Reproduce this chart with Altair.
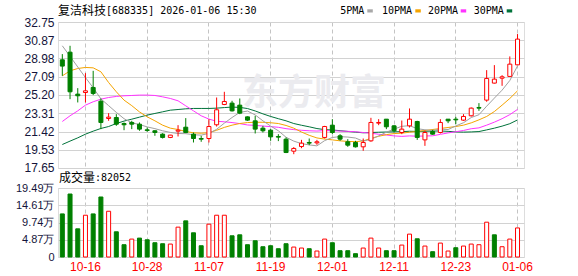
import altair as alt
import pandas as pd

# ---------------- data ----------------
dates = ["10-13", "10-14", "10-15", "10-16", "10-17", "10-20", "10-21", "10-22", "10-23", "10-24",
         "10-27", "10-28", "10-29", "10-30", "10-31", "11-03", "11-04", "11-05", "11-06", "11-07",
         "11-10", "11-11", "11-12", "11-13", "11-14", "11-17", "11-18", "11-19", "11-20", "11-21",
         "11-24", "11-25", "11-26", "11-27", "11-28", "12-01", "12-02", "12-03", "12-04", "12-05",
         "12-08", "12-09", "12-10", "12-11", "12-12", "12-15", "12-16", "12-17", "12-18", "12-19",
         "12-22", "12-23", "12-24", "12-25", "12-26", "12-29", "12-30", "12-31", "01-05", "01-06"]

opens = [28.84, 29.63, 25.29, 25.46, 25.98, 24.56, 22.77, 22.87, 22.25, 22.36,
         22.18, 21.60, 21.50, 21.15, 20.81, 21.46, 21.87, 21.15, 20.70, 20.70,
         22.12, 24.22, 24.36, 24.15, 22.94, 22.53, 21.77, 21.56, 20.91, 20.63,
         19.39, 19.87, 20.29, 20.25, 20.81, 22.08, 20.98, 20.36, 20.29, 19.84,
         20.46, 22.29, 22.70, 22.01, 21.32, 22.01, 22.46, 20.56, 21.43, 21.32,
         22.70, 22.70, 22.60, 23.05, 23.91, 24.67, 26.43, 26.94, 27.12, 28.32]
highs = [29.43, 30.29, 25.91, 27.46, 27.70, 24.84, 23.32, 23.22, 22.36, 22.53,
         22.36, 21.84, 21.56, 21.25, 21.08, 22.08, 22.81, 21.32, 20.98, 22.70,
         24.94, 25.53, 24.60, 24.84, 22.98, 23.05, 22.01, 21.67, 21.15, 20.81,
         19.81, 20.56, 20.70, 20.56, 22.01, 22.70, 21.15, 20.63, 20.46, 20.70,
         22.84, 22.70, 22.70, 22.08, 22.56, 23.81, 22.53, 21.50, 21.60, 22.70,
         22.70, 22.94, 23.22, 23.91, 24.36, 27.77, 28.29, 27.25, 29.19, 31.50]
lows = [27.18, 24.77, 24.43, 24.43, 25.19, 21.67, 22.53, 22.01, 21.56, 21.67,
        21.50, 21.39, 20.98, 20.70, 20.74, 20.91, 21.25, 20.29, 20.36, 20.29,
        21.94, 24.15, 23.49, 23.22, 22.53, 21.22, 21.32, 20.46, 20.43, 19.19,
        19.08, 19.70, 20.01, 20.05, 20.70, 21.15, 20.46, 19.84, 19.77, 19.43,
        20.36, 22.08, 21.67, 21.32, 21.15, 21.84, 20.56, 19.94, 21.08, 21.22,
        22.29, 22.18, 22.53, 22.98, 23.56, 24.50, 26.39, 26.15, 27.12, 28.32]
closes = [28.19, 25.53, 25.12, 25.63, 25.36, 22.36, 22.91, 22.18, 22.12, 22.18,
          21.67, 21.53, 21.32, 20.81, 21.05, 21.56, 21.32, 20.70, 20.63, 21.94,
          23.67, 24.53, 23.56, 23.32, 22.60, 21.67, 21.50, 20.87, 20.84, 19.25,
          19.67, 20.22, 20.22, 20.36, 21.94, 21.32, 20.63, 20.01, 19.84, 20.29,
          22.36, 22.36, 21.91, 21.50, 21.67, 22.70, 20.81, 21.32, 21.15, 22.36,
          22.53, 22.63, 22.98, 23.84, 23.84, 26.91, 26.84, 27.08, 28.39, 30.98]

ma5 = [30.29, 29.20, 28.10, 27.00, 25.95, 24.80, 24.10, 23.40, 22.75, 22.32,
       22.15, 21.90, 21.72, 21.50, 21.33, 21.22, 21.20, 21.09, 21.05, 21.23,
       21.65, 22.29, 22.87, 23.40, 23.54, 23.14, 22.53, 21.99, 21.50, 20.83,
       20.43, 20.17, 20.04, 19.94, 20.48, 20.81, 20.89, 20.85, 20.75, 20.42,
       20.63, 20.97, 21.35, 21.68, 21.96, 22.03, 21.72, 21.60, 21.53, 21.67,
       21.63, 22.00, 22.33, 22.87, 23.16, 24.04, 24.88, 25.70, 26.70, 28.20]
ma10 = [27.18, 27.70, 27.94, 28.05, 28.01, 27.60, 26.49, 25.53, 24.67, 24.10,
        23.45, 22.94, 22.53, 22.08, 21.77, 21.63, 21.43, 21.29, 21.25, 21.30,
        21.55, 21.85, 22.08, 22.25, 22.35, 22.38, 22.38, 22.33, 22.25, 22.05,
        21.77, 21.37, 21.03, 20.76, 20.64, 20.56, 20.46, 20.40, 20.37, 20.45,
        20.72, 20.93, 21.10, 21.21, 21.25, 21.35, 21.43, 21.53, 21.63, 21.74,
        21.84, 21.94, 22.08, 22.32, 22.63, 22.98, 23.49, 24.15, 24.84, 25.63]
ma20 = [22.46, 23.05, 23.56, 24.15, 24.50, 24.77, 24.94, 25.05, 25.12, 25.15,
        25.19, 25.19, 25.15, 25.01, 24.84, 24.60, 24.08, 23.56, 23.05, 22.71,
        22.48, 22.43, 22.35, 22.24, 22.10, 22.06, 21.99, 21.93, 21.86, 21.72,
        21.62, 21.55, 21.50, 21.47, 21.52, 21.51, 21.47, 21.44, 21.40, 21.32,
        21.25, 21.14, 21.06, 20.97, 20.92, 20.97, 20.94, 20.96, 20.98, 21.13,
        21.28, 21.40, 21.53, 21.71, 21.80, 22.08, 22.39, 22.75, 23.17, 23.71]
ma30 = [20.08, 20.43, 20.77, 21.15, 21.46, 21.74, 21.94, 22.25, 22.50, 22.70,
        22.91, 23.12, 23.29, 23.46, 23.63, 23.70, 23.77, 23.81, 23.81, 23.81,
        23.84, 23.90, 23.95, 23.92, 23.80, 23.55, 23.25, 22.98, 22.75, 22.53,
        22.25, 22.07, 21.91, 21.73, 21.62, 21.58, 21.51, 21.43, 21.36, 21.29,
        21.32, 21.35, 21.37, 21.39, 21.41, 21.45, 21.43, 21.45, 21.47, 21.48,
        21.44, 21.38, 21.36, 21.38, 21.42, 21.59, 21.77, 21.98, 22.23, 22.62]

# volume in 万 (10k)
volumes = [12.17, 17.79, 7.96, 11.80, 12.17, 16.95, 12.92, 7.12, 3.47, 5.06,
           5.34, 4.87, 4.03, 3.75, 3.65, 8.43, 10.21, 6.84, 3.18, 9.27,
           11.80, 11.80, 5.99, 6.27, 3.47, 4.59, 2.90, 3.18, 2.34, 3.75,
           2.81, 2.53, 2.34, 1.69, 5.06, 4.03, 1.78, 1.78, 0.94, 2.53,
           5.34, 2.53, 1.78, 1.78, 3.37, 6.46, 5.15, 3.09, 1.50, 3.93,
           1.69, 2.62, 3.09, 3.65, 3.47, 9.83, 6.27, 2.90, 5.06, 8.2052]
vol_up = [0, 0, 0, 1, 0, 0, 1, 0, 0, 1,
          0, 0, 0, 0, 1, 1, 0, 0, 0, 1,
          1, 1, 0, 0, 0, 0, 0, 0, 0, 0,
          1, 1, 0, 1, 1, 0, 0, 0, 0, 1,
          1, 1, 0, 0, 1, 1, 0, 1, 0, 1,
          1, 0, 1, 1, 1, 1, 0, 1, 1, 1]

date_ticks = ["10-16", "10-28", "11-07", "11-19", "12-01", "12-11", "12-23", "01-06"]
price_ticks = [17.65, 19.53, 21.42, 23.31, 25.20, 27.09, 28.98, 30.87, 32.75]
vol_ticks = [0, 4.87, 9.74, 14.61, 19.49]

title_cn = "复洁科技"
title_rest = "[688335] 2026-01-06 15:30"
vol_cn = "成交量"
vol_rest = ":82052"
watermark = "东方财富"
legend_names = ["5PMA", "10PMA", "20PMA", "30PMA"]
legend_colors = ["#a8a8a8", "#f5a400", "#ff33ff", "#00723a"]

df = pd.DataFrame({
    "date": dates, "open": opens, "high": highs, "low": lows, "close": closes,
    "ma5": ma5, "ma10": ma10, "ma20": ma20, "ma30": ma30,
    "vol": volumes, "vup": vol_up,
})

W, H1, H2 = 466, 146, 69
RED, GREEN = "#ff0000", "#008000"
MONO = "DejaVu Sans Mono"
CJK = "Noto Sans CJK SC"

xscale = alt.Scale(paddingInner=0, paddingOuter=0.2, align=0.15)


def x_enc(show_labels):
    if show_labels:
        ax = alt.Axis(values=date_ticks, labelColor=RED, labelFontSize=12, labelAngle=0,
                      labelFont="Liberation Sans", labelPadding=4, ticks=False, domain=False,
                      grid=True, gridDash=[4, 3], gridColor="#c4c4c4", bandPosition=0.5,
                      title=None, labelOverlap=False)
    else:
        ax = alt.Axis(values=date_ticks, labels=False, ticks=False, domain=False,
                      grid=True, gridDash=[4, 3], gridColor="#c4c4c4", bandPosition=0.5,
                      title=None)
    return alt.X("date:O", sort=None, scale=xscale, axis=ax)


# lower bound nudged by a hair so the 17.65 tick is not culled by float rounding
pscale = alt.Scale(domain=[17.6499, 32.75], nice=False, zero=False)
paxis = alt.Axis(values=price_ticks, format=".2f", labelFontSize=12, labelColor="#14143a",
                 labelFont="Liberation Sans", ticks=False, domain=False, labelPadding=4,
                 gridColor="#d2d2d2", title=None, labelOverlap=False, labelFlush=False)


def py(field):
    return alt.Y(f"{field}:Q", scale=pscale, axis=paxis)


base = alt.Chart(df)
up_cond = "datum.close >= datum.open"

wicks = base.mark_rule(strokeWidth=1).encode(
    x=x_enc(False), y=py("low"), y2="high:Q",
    color=alt.condition(up_cond, alt.value(RED), alt.value(GREEN)),
)
bodies = base.mark_bar(size=4, strokeWidth=1).encode(
    x=x_enc(False), y=py("open"), y2="close:Q",
    fill=alt.condition(up_cond, alt.value("white"), alt.value(GREEN)),
    stroke=alt.condition(up_cond, alt.value(RED), alt.value(GREEN)),
)
ma_layers = [
    base.mark_line(strokeWidth=1, color=c).encode(x=x_enc(False), y=py(f))
    for f, c in zip(["ma30", "ma20", "ma10", "ma5"],
                    ["#00723a", "#ff33ff", "#f5a400", "#a0a0a0"])
]

one = pd.DataFrame({"k": [0]})
wm = alt.Chart(one).mark_text(text=watermark, font=CJK, fontSize=36, fontWeight="bold",
                              color="#ebebef", align="center", baseline="middle").encode(
    x=alt.value(256), y=alt.value(72))
t1 = alt.Chart(one).mark_text(text=title_cn, font=CJK, fontSize=12, color="#000",
                              align="left", baseline="middle").encode(
    x=alt.value(0), y=alt.value(-11))
t2 = alt.Chart(one).mark_text(text=title_rest, font=MONO, fontSize=10, color="#000",
                              align="left", baseline="middle").encode(
    x=alt.value(48), y=alt.value(-11))

leg_text_x = [282.3, 324.0, 370.0, 415.7]
leg_sq_x = [309.3, 357.3, 402.7, 448.7]
leg_layers = []
for name, col, tx, sx in zip(legend_names, legend_colors, leg_text_x, leg_sq_x):
    leg_layers.append(alt.Chart(one).mark_text(text=name, font=MONO, fontSize=10, color="#000",
                                               align="left", baseline="middle").encode(
        x=alt.value(tx), y=alt.value(-11)))
    leg_layers.append(alt.Chart(one).mark_rect(color=col).encode(
        x=alt.value(sx), x2=alt.value(sx + 5.5), y=alt.value(-12.7), y2=alt.value(-9.5)))

top = alt.layer(wm, *ma_layers, wicks, bodies, t1, t2, *leg_layers).properties(width=W, height=H1)

vaxis = alt.Axis(values=vol_ticks, labelExpr="datum.value == 0 ? '0' : format(datum.value, '.2f') + '万'",
                 labelFontSize=11, labelColor="#14143a", labelFont="Liberation Sans",
                 ticks=False, domain=False, labelPadding=4, gridColor="#d2d2d2",
                 title=None, labelOverlap=False, labelFlush=False)
vcond = "datum.vup == 1"
vbars = base.mark_bar(size=4, strokeWidth=1).encode(
    x=x_enc(True),
    y=alt.Y("vol:Q", scale=alt.Scale(domain=[0, 19.49], nice=False), axis=vaxis),
    fill=alt.condition(vcond, alt.value("white"), alt.value(GREEN)),
    stroke=alt.condition(vcond, alt.value(RED), alt.value(GREEN)),
)
v1 = alt.Chart(one).mark_text(text=vol_cn, font=CJK, fontSize=12, color="#000",
                              align="left", baseline="middle").encode(
    x=alt.value(1), y=alt.value(-10))
v2 = alt.Chart(one).mark_text(text=vol_rest, font=MONO, fontSize=10, color="#000",
                              align="left", baseline="middle").encode(
    x=alt.value(37), y=alt.value(-10))
bottom = alt.layer(vbars, v1, v2).properties(width=W, height=H2)

chart = alt.vconcat(top, bottom, spacing=20, bounds="flush").properties(
    padding={"left": 14, "top": 4, "right": 5, "bottom": 2}
).configure_view(stroke="#a0a0a0", strokeWidth=1.5).configure(background="white")

chart.save("out.html", embed_options={"renderer": "svg", "actions": False})
